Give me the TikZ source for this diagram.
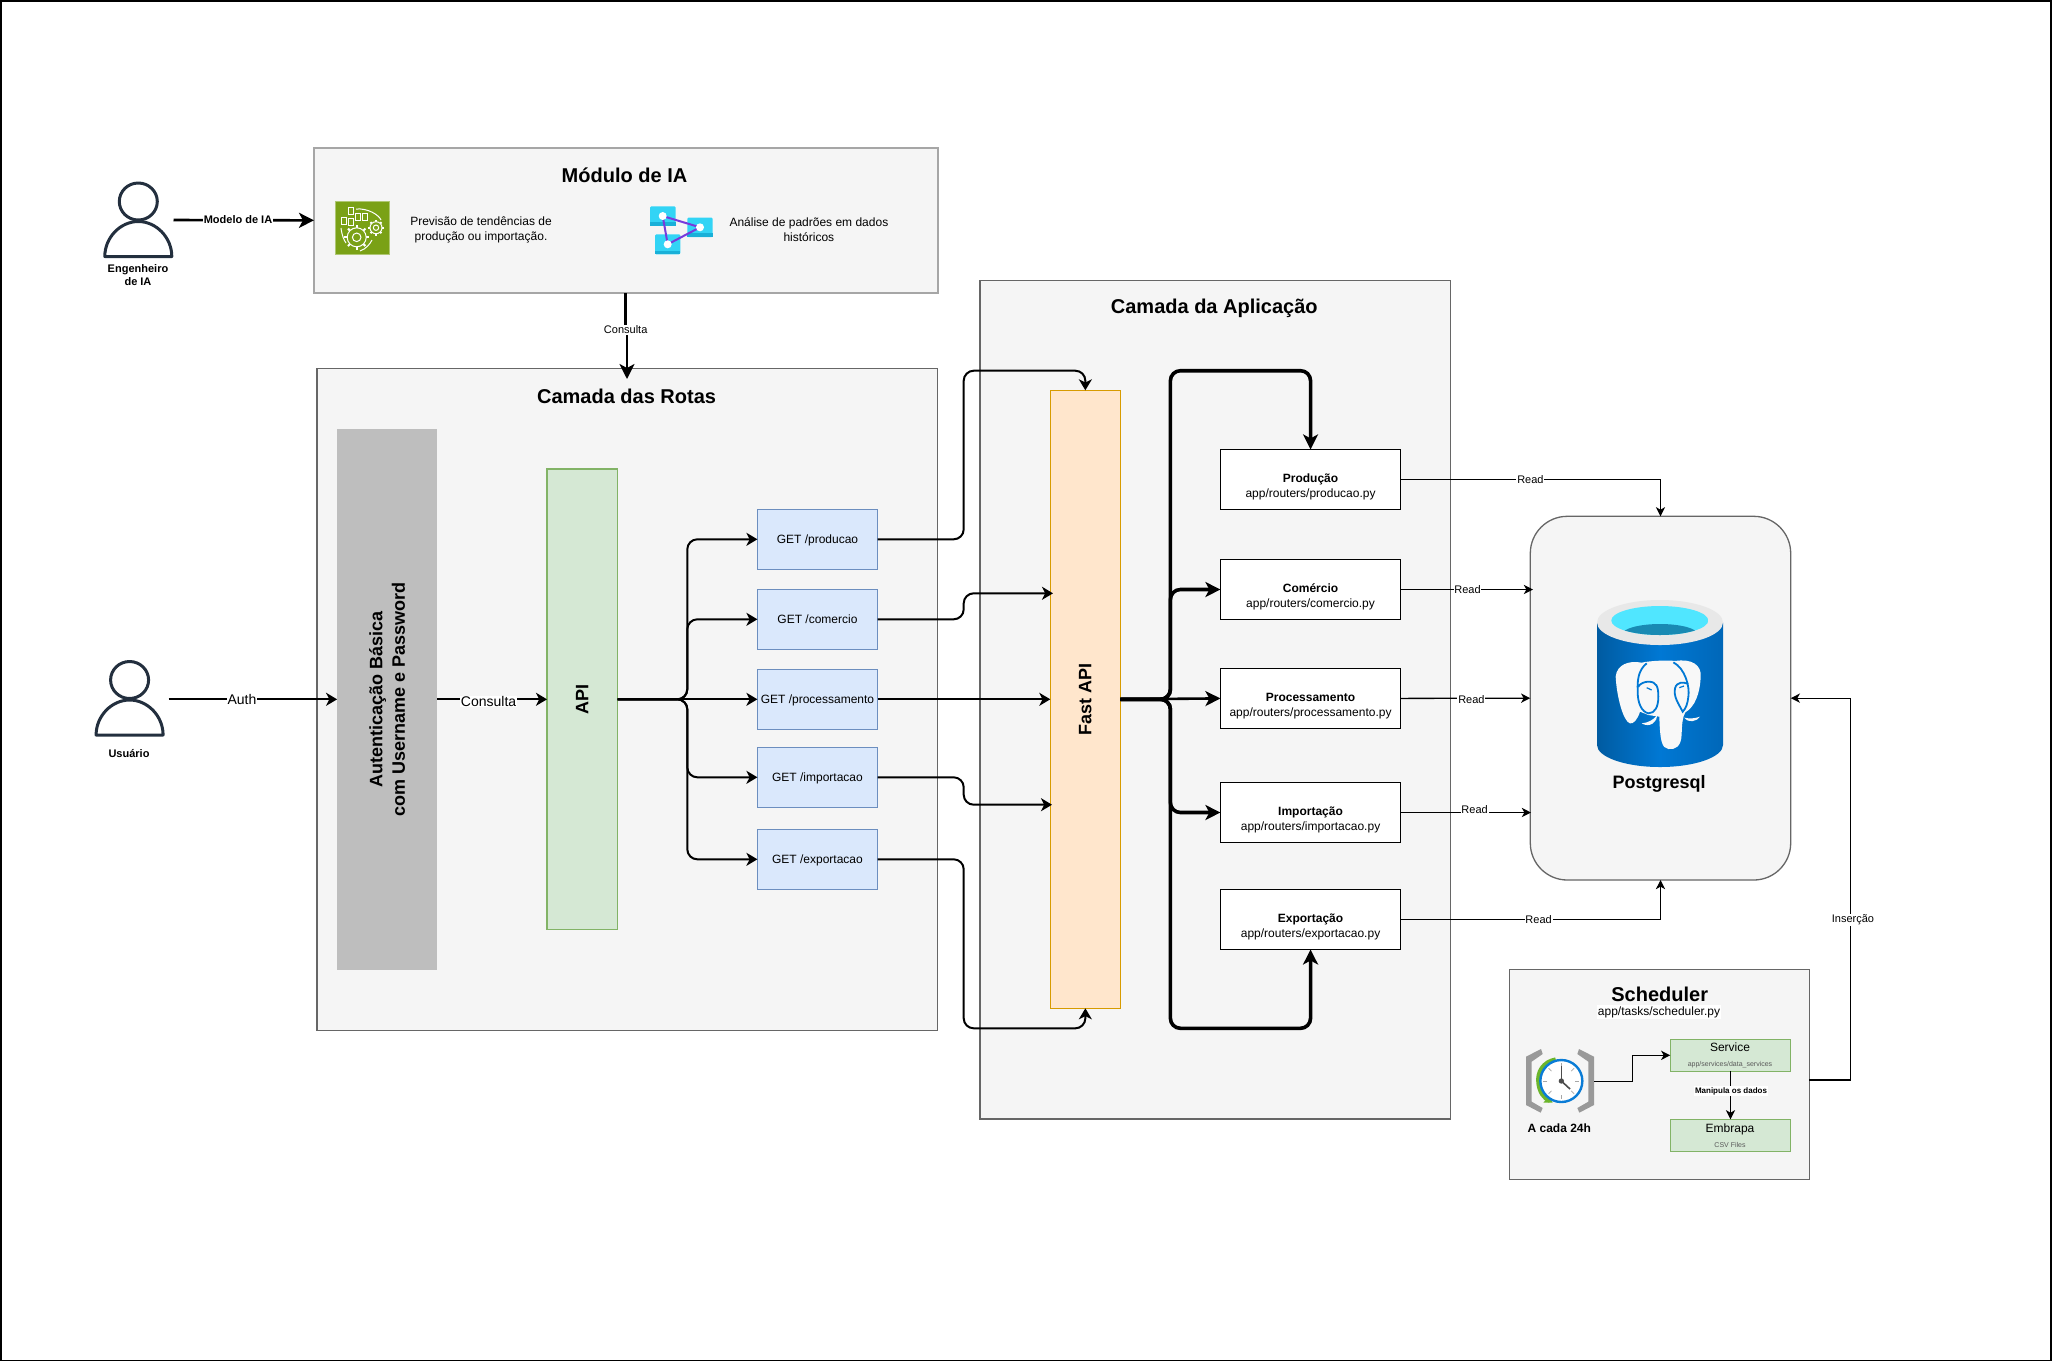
\documentclass[tikz,border=0pt]{standalone}
\usepackage{fontspec}
\setmainfont{Liberation Sans}
\usetikzlibrary{arrows.meta}
\newcommand\fpx[1]{\fontsize{\fpeval{#1*0.5}pt}{\fpeval{#1*0.625}pt}\selectfont}
\definecolor{panelf}{HTML}{F5F5F5}
\definecolor{panels}{HTML}{666666}
\definecolor{iaborder}{HTML}{A6A6A6}
\definecolor{getf}{HTML}{DAE8FC}
\definecolor{gets}{HTML}{6C8EBF}
\definecolor{grnf}{HTML}{D5E8D4}
\definecolor{grns}{HTML}{82B366}
\definecolor{orgf}{HTML}{FFE6CC}
\definecolor{orgs}{HTML}{D79B00}
\definecolor{authf}{HTML}{BEBEBE}
\definecolor{person}{HTML}{232F3E}
\definecolor{mlgreen}{HTML}{7AA116}
\definecolor{syncb}{HTML}{32D4F5}
\definecolor{syncd}{HTML}{19B0D8}
\definecolor{purp}{HTML}{773ADC}
\definecolor{cylL}{HTML}{005BA1}
\definecolor{cylM}{HTML}{0078D4}
\definecolor{cylR}{HTML}{0067B8}
\definecolor{cylTop}{HTML}{E8E8E8}
\definecolor{cylCy}{HTML}{50E6FF}
\definecolor{cylDk}{HTML}{198AB3}
\definecolor{clkG}{HTML}{999999}
\definecolor{clkGr}{HTML}{6BB52B}
\definecolor{clkB}{HTML}{0A7CD6}
\tikzset{
  panel/.style={draw=panels,fill=panelf,line width=0.65pt,inner sep=0pt,outer sep=0pt},
  getbox/.style={draw=gets,fill=getf,line width=0.65pt,inner sep=0pt,outer sep=0pt,minimum width=60.05pt,minimum height=30pt,font=\fpx{12},text height=5.5pt,text depth=1.3pt},
  grnbox/.style={draw=grns,fill=grnf,line width=0.65pt,inner sep=0pt,outer sep=0pt},
  rbox/.style={draw=black,fill=white,line width=0.65pt,inner sep=0pt,outer sep=0pt,minimum width=90.15pt,minimum height=30pt},
  rtext/.style={align=center,inner sep=0pt,font=\fpx{12}},
  txt/.style={inner sep=0pt,align=center},
  title/.style={inner sep=0pt,font=\fpx{20}\bfseries},
  lbl/.style={fill=white,inner sep=0.4pt,font=\fpx{11}},
  lblbig/.style={fill=white,inner sep=0.4pt,font=\fpx{14}},
  thin/.style={draw=black,line width=0.65pt,-{Stealth[length=4.6pt,width=4.6pt,inset=1.3pt]}},
  midl/.style={draw=black,line width=1pt,rounded corners=5pt,-{Stealth[length=5.5pt,width=6.5pt,inset=1.6pt]}},
  thick3/.style={draw=black,line width=1.3pt,-{Stealth[length=7.5pt,width=7.5pt,inset=2pt]}},
  bus/.style={draw=black,line width=1.8pt,rounded corners=5pt,-{Stealth[length=7.5pt,width=7.5pt,inset=2pt]}},
  personline/.style={draw=person,line width=1.5pt,line join=round},
  icw/.style={draw=white,line width=0.5pt}
}
\newcommand\personicon[2]{%
  \begin{scope}[shift={(#1,#2)}]
    \draw[personline] (0,0) ellipse [x radius=19,y radius=18.5];
    \draw[personline,fill=white] (-33.5,55) .. controls (-33.5,36) and (-18,20) .. (0,20) .. controls (18,20) and (33.5,36) .. (33.5,55) -- cycle;
  \end{scope}}
\newcommand\gearicon[3]{%
  \foreach \a in {0,45,...,315}{\draw[icw,line width=1pt] (#1,#2) ++(\a:#3) -- ++(\a:0.3*#3);}
  \draw[icw,fill=mlgreen] (#1,#2) circle [radius=#3];
  \draw[icw] (#1,#2) circle [radius=0.45*#3];}
\begin{document}
\begin{tikzpicture}[x=0.5pt,y=-0.5pt]
\useasboundingbox (0,0) rectangle (2052,1362);
\draw[black,line width=0.8pt] (0.8,0.8) rectangle (2051,1360.5);

% panels
\node[panel,draw=iaborder,line width=1pt,minimum width=311.75pt,minimum height=72.65pt] (ia) at (625.75,220.35) {};
\node[panel,minimum width=310.15pt,minimum height=331pt] (rotas) at (627.15,699.3) {};
\node[panel,minimum width=235.35pt,minimum height=419.35pt] (app) at (1215.35,699.65) {};
\node[title] (tia) at (624.5,175) {Módulo de IA};
\node[title] (trotas) at (626.6,396) {Camada das Rotas};
\node[title] (tapp) at (1214.3,308) {Camada da Aplicação};

% inner boxes
\node[draw=none,fill=authf,inner sep=0pt,outer sep=0pt,minimum width=50.1pt,minimum height=270.5pt] (auth) at (387.2,699.3) {};
\node[txt,rotate=90,font=\fpx{18}\bfseries] (authtxt) at (auth.center) {Autenticação Básica\\com Username e Password};
\node[grnbox,minimum width=35.3pt,minimum height=230.25pt] (api) at (582.3,699.3) {};
\node[txt,rotate=90,font=\fpx{18}\bfseries] (apitxt) at (api.center) {API};
\node[getbox] (g1) at (817.45,539.3) {GET /producao};
\node[getbox] (g2) at (817.45,619.3) {GET /comercio};
\node[getbox] (g3) at (817.45,699.3) {GET /processamento};
\node[getbox] (g4) at (817.45,777.3) {GET /importacao};
\node[getbox] (g5) at (817.45,859.3) {GET /exportacao};
\node[draw=orgs,fill=orgf,line width=0.65pt,inner sep=0pt,outer sep=0pt,minimum width=35.05pt,minimum height=309pt] (fast) at (1085.35,699.3) {};
\node[txt,rotate=90,font=\fpx{18}\bfseries] (fasttxt) at (fast.center) {Fast API};
\node[rbox] (r1) at (1310.55,479.4) {};
\node[rbox] (r2) at (1310.55,589.5) {};
\node[rbox] (r3) at (1310.55,698.4) {};
\node[rbox] (r4) at (1310.55,812.5) {};
\node[rbox] (r5) at (1310.55,919.5) {};
\node[rtext] (t1) at ([yshift=-3.8pt]r1.center) {\textbf{Produção}\\app/routers/producao.py};
\node[rtext] (t2) at ([yshift=-3.8pt]r2.center) {\textbf{Comércio}\\app/routers/comercio.py};
\node[rtext] (t3) at ([yshift=-3.8pt]r3.center) {\textbf{Processamento}\\app/routers/processamento.py};
\node[rtext] (t4) at ([yshift=-3.8pt]r4.center) {\textbf{Importação}\\app/routers/importacao.py};
\node[rtext] (t5) at ([yshift=-3.8pt]r5.center) {\textbf{Exportação}\\app/routers/exportacao.py};

% postgres
\node[panel,rounded corners=18.5pt,minimum width=130.2pt,minimum height=181.85pt] (pg) at (1660.5,698.15) {};
\shade[left color=cylL,right color=cylR,middle color=cylM] (1597,622.5) -- (1597,745) .. controls (1597,757) and (1625,767) .. (1660,767) .. controls (1695,767) and (1723,757) .. (1723,745) -- (1723,622.5) -- cycle;
\fill[cylTop] (1660,622.5) ellipse [x radius=63,y radius=22.5];
\begin{scope}
  \clip (1659.8,620.5) ellipse [x radius=48.5,y radius=14.5];
  \fill[cylCy] (1611,606) rectangle (1709,636);
  \fill[cylDk] (1660,634.5) ellipse [x radius=38,y radius=10.5];
\end{scope}
\begin{scope}[shift={(1500,500)},x=0.16667pt,y=-0.16667pt]
  \fill[cylTop!30!white] (347,530) .. controls (350,495) and (385,480) .. (425,488) .. controls (450,482) and (505,480) .. (525,483) .. controls (575,475) and (605,495) .. (602,530) .. controls (600,580) and (585,620) .. (556,637) .. controls (548,650) and (546,670) .. (545,700) .. controls (545,740) and (525,750) .. (505,747) .. controls (485,745) and (480,720) .. (478,650) -- (445,645) -- (420,635) .. controls (412,660) and (400,672) .. (390,670) .. controls (370,665) and (350,590) .. (347,530) -- cycle;
  \fill[cylTop!30!white] (425,670) .. controls (445,668) and (460,660) .. (472,645) .. controls (472,665) and (450,685) .. (425,670) -- cycle;
  \fill[cylTop!30!white] (553,653) .. controls (570,657) and (585,655) .. (600,650) .. controls (590,665) and (565,670) .. (553,653) -- cycle;
  \draw[cylM,line width=0.9pt] (440,490) .. controls (415,510) and (412,540) .. (413,570) .. controls (412,610) and (425,635) .. (445,640) .. controls (465,640) and (475,620) .. (475,590) .. controls (475,560) and (470,545) .. (445,545) .. controls (435,545) and (420,550) .. (415,560);
  \draw[cylM,line width=0.9pt] (520,487) .. controls (555,505) and (570,560) .. (565,590) .. controls (563,610) and (558,625) .. (548,635) .. controls (535,610) and (520,590) .. (525,565) .. controls (530,545) and (550,545) .. (565,552);
  \draw[cylM,line width=0.6pt] (440,563) -- (455,570);
  \draw[cylM,line width=0.6pt] (538,563) -- (552,558);
\end{scope}
\node[inner sep=0pt,font=\fpx{18}\bfseries] (pgtxt) at (1659,784) {Postgresql};

% people
\node[inner sep=0pt,outer sep=0pt,minimum width=35pt,minimum height=38pt] (eng) at (138.3,220) {};
\personicon{138.3}{201.5}
\node[txt,font=\fpx{11}\bfseries] (engt) at (138,275) {Engenheiro\\de IA};
\node[inner sep=0pt,outer sep=0pt,minimum width=35pt,minimum height=38pt] (user) at (129.6,699.3) {};
\personicon{129.6}{680}
\node[txt,font=\fpx{11}\bfseries] (usert) at (129,754) {Usuário};

% module IA content
\node[fill=mlgreen,draw=mlgreen!60!white,line width=0.3pt,inner sep=0pt,outer sep=0pt,minimum width=26.8pt,minimum height=26.7pt] (mlic) at (362.5,228) {};
\gearicon{356.7}{237.3}{9.5}
\gearicon{376}{227.7}{6}
\foreach \bx/\by in {343.5/221,351/222,351/211,358/216.5,365/216.5}{\draw[icw] (\bx-2.5,\by-3.5) rectangle (\bx+2.5,\by+3.5);}
\draw[icw] (356,209) .. controls (368,208) and (379,215) .. (381,220);
\draw[icw] (341,228) .. controls (342,236) and (344,240) .. (346,243);
\draw[icw] (372,240) .. controls (370,244) and (366,249) .. (360,251);
\node[txt,font=\fpx{12}] (prev) at (481,230) {Previsão de tendências de\\produção ou importação.};
\fill[syncb,rounded corners=0.6pt] (650,206.3) rectangle (675.7,225.7);
\fill[syncb,rounded corners=0.6pt] (687.3,217.7) rectangle (712.7,237);
\fill[syncb,rounded corners=0.6pt] (655,234.3) rectangle (680.3,254.3);
\fill[syncd] (650,222) rectangle (675.7,225.7);
\fill[syncd] (687.3,233) rectangle (712.7,237);
\fill[syncd] (655,250.5) rectangle (680.3,254.3);
\draw[purp,line width=1pt,line join=round] (662.7,216) -- (700,227.3) -- (667.7,244.3) -- cycle;
\fill[white] (662.7,216) circle [radius=4];
\fill[white] (700,227.3) circle [radius=4];
\fill[white] (667.7,244.3) circle [radius=4];
\node[txt,font=\fpx{12}] (anal) at (808.9,230) {Análise de padrões em dados\\históricos};

% scheduler
\node[panel,minimum width=150pt,minimum height=105pt] (sched) at (1659.3,1074.3) {};
\node[title] (tsched) at (1659.7,994.7) {Scheduler};
\node[fill=white,inner sep=0.6pt,font=\fpx{12}] (tsched2) at (1659,1012) {app/tasks/scheduler.py};
\node[grnbox,minimum width=60.2pt,minimum height=16pt] (svc) at (1730.5,1055.3) {};
\node[grnbox,minimum width=60.2pt,minimum height=16pt] (emb) at (1730.5,1135.3) {};
\node[inner sep=0pt,font=\fpx{12}] (svct) at (1730,1047.5) {Service};
\node[inner sep=0pt,font=\fpx{7},text=black!65] (svcs) at (1730,1064.3) {app/services/data\_services};
\node[inner sep=0pt,font=\fpx{12}] (embt) at (1730,1129) {Embrapa};
\node[inner sep=0pt,font=\fpx{7},text=black!65] (embs) at (1730,1144.7) {CSV Files};
\begin{scope}[shift={(1490,950)},x=0.16667pt,y=-0.16667pt]
  \fill[clkG] (153,297) -- (108,320) -- (108,465) -- (152,488) -- (158,474) -- (125,455) -- (125,335) -- (158,312) -- cycle;
  \fill[clkG] (267,297) -- (312,320) -- (312,465) -- (268,488) -- (262,474) -- (295,455) -- (295,335) -- (262,312) -- cycle;
  \draw[clkGr,line width=2pt] (197,328) .. controls (160,335) and (140,365) .. (145,400) .. controls (148,425) and (160,445) .. (180,453);
  \fill[clkGr] (160,458) -- (188,458) -- (178,438) -- cycle;
  \draw[clkB,line width=1.2pt,fill=white] (214,393) circle [radius=63];
  \foreach \a in {0,45,...,315}{\draw[black!35,line width=0.4pt] (214,393) ++(\a:42) -- ++(\a:12);}
  \draw[black!70,line width=0.8pt] (214,393) -- (214,348);
  \draw[black!70,line width=0.8pt] (214,393) -- (240,417);
  \fill[black!70] (214,393) circle [radius=8];
\end{scope}
\coordinate (clk) at (1594.3,1081.3);
\coordinate (clkmid) at (1632.7,1081.3);
\node[inner sep=0pt,font=\fpx{12}\bfseries] (clkt) at (1559.3,1127.7) {A cada 24h};

% connectors
\coordinate (kink) at (625.5,329);
\coordinate (rotastop) at (627,379);
\draw[thick3] ([xshift=0.1pt]eng.east) -- (ia.west);
\draw[thick3] (ia.south -| kink) -- (kink) -- (kink -| rotastop) -- (rotastop);
\coordinate (uout) at (168.7,699.3);
\draw[midl] (uout) -- (auth.west);
\draw[midl] (auth.east) -- (api.west);

\coordinate (bra) at (687.3,699.3);
\foreach \g in {g1,g2,g4,g5}{\draw[midl] (api.east) -- (bra) |- (\g.west);}
\draw[midl] (api.east) -- (g3.west);

\coordinate (elb) at (963.7,699.3);
\coordinate (ftop) at (963.7,370.7);
\coordinate (fbot) at (963.7,1028.3);
\coordinate (fc) at (1053,593.3);
\coordinate (fi) at (1052,804.7);
\draw[midl] (g1.east) -- (g1.east -| elb) -- (ftop) -- (ftop -| fast.north) -- (fast.north);
\draw[midl] (g2.east) -- (g2.east -| elb) -- (elb |- fc) -- (fc);
\draw[midl] (g3.east) -- (fast.west);
\draw[midl] (g4.east) -- (g4.east -| elb) -- (elb |- fi) -- (fi);
\draw[midl] (g5.east) -- (g5.east -| elb) -- (fbot) -- (fbot -| fast.south) -- (fast.south);

\coordinate (busm) at (1170.4,699.3);
\coordinate (bust) at (1170.4,370.7);
\coordinate (busb) at (1170.4,1028.3);
\draw[bus] (fast.east) -- (busm) -- (bust) -- (bust -| r1.north) -- (r1.north);
\draw[bus] (fast.east) -- (busm) -- (busb) -- (busb -| r5.south) -- (r5.south);
\draw[bus] (fast.east) -- (busm) |- (r2.west);
\draw[bus] (fast.east) -- (busm) |- (r4.west);
\draw[bus,line width=1.3pt] (fast.east) -- (r3.west);

\coordinate (pgc) at (1533,589.5);
\coordinate (pgi) at (1531,812.5);
\draw[thin] (r1.east) -| (pg.north);
\draw[thin] (r2.east) -- (pgc);
\draw[thin] (r3.east) -- (pg.west);
\draw[thin] (r4.east) -- (pgi);
\draw[thin] (r5.east) -| (pg.south);
\coordinate (insx) at (1850.3,1080);
\draw[thin] (sched.east |- insx) -- (insx) |- (pg.east);
\draw[thin] (clk) -- (clkmid) |- (svc.west);
\draw[thin] (svc.south) -- (emb.north);

% labels
\node[lbl,font=\fpx{11}\bfseries] (lmod) at (238,219.5) {Modelo de IA};
\node[lbl] (lcons) at (625.7,330) {Consulta};
\node[lblbig] (lauth) at (242,699) {Auth};
\node[lblbig] (lcons2) at (488.6,701.5) {Consulta};
\node[lbl] (lr1) at (1530.4,480) {Read};
\node[lbl] (lr2) at (1467.5,590) {Read};
\node[lbl] (lr3) at (1471.4,700) {Read};
\node[lbl] (lr4) at (1474.6,810) {Read};
\node[lbl] (lr5) at (1538.6,920) {Read};
\node[lbl] (lins) at (1853,920) {Inserção};
\node[lbl,font=\fpx{8}\bfseries] (lman) at (1731,1091) {Manipula os dados};
\end{tikzpicture}
\end{document}
